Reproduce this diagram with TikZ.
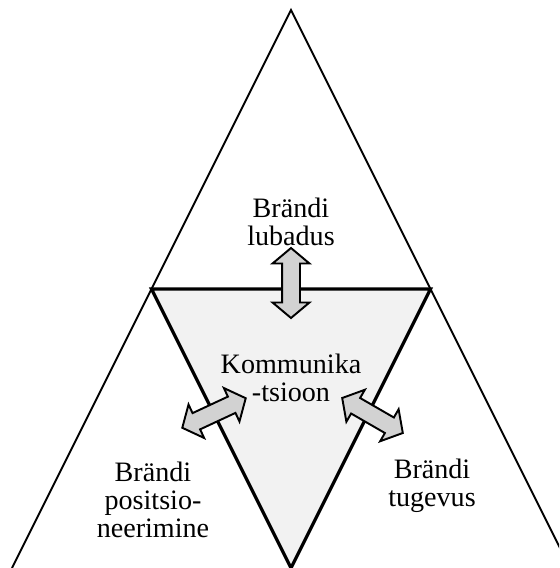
\documentclass[tikz,border=0pt]{standalone}
\usepackage{fontspec}
\setmainfont{Liberation Serif}
\usetikzlibrary{shapes.arrows}
\begin{document}
\begin{tikzpicture}[
    x=0.02cm, y=-0.02cm,
    label/.style={align=center, font=\fontsize{16}{16}\selectfont},
    arr/.style={double arrow, draw=black, line width=1.1pt, fill=gray!35,
        inner sep=0.16cm, minimum height=1.4cm, minimum width=0.7cm,
        double arrow head extend=0.19cm, double arrow tip angle=100}
]
    \useasboundingbox (0,0) rectangle (559,568);
    \clip (0,0) rectangle (559,568);
    % Corners of the big triangle
    \coordinate (top) at (291,10);
    \coordinate (bl) at (12,568);
    \coordinate (br) at (570,568);
    % Corners of the inner triangle
    \coordinate (ml) at (151.5,289);
    \coordinate (mr) at (430.5,289);
    \coordinate (mb) at (291,568);
    % Triangles
    \draw[line width=1.1pt] (bl) -- (top) -- (br);
    \filldraw[fill=gray!10, line width=1.9pt, line join=miter] (ml) -- (mr) -- (mb) -- cycle;
    % Texts
    \node[label] (lubadus) at (291,222) {Brändi\\lubadus};
    \node[label] (komm) at (291,378) {Kommunika\\-tsioon};
    \node[label] (pos) at (153,500) {Brändi\\positsio-\\neerimine};
    \node[label] (tug) at (432,486) {Brändi\\tugevus};
    % Arrows
    \node[arr, rotate=90] (a1) at (291,283) {};
    \node[arr, rotate=25] (a2) at (214,413) {};
    \node[arr, rotate=-30] (a3) at (372.5,415.5) {};
\end{tikzpicture}
\end{document}
